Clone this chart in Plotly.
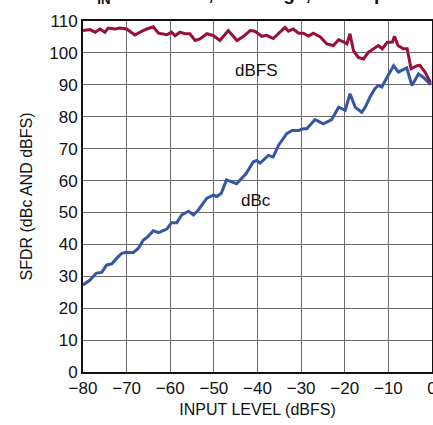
import plotly.graph_objects as go

# dBFS curve (red)
dbfs_x = [-80.0, -78.4, -77.2, -76.1, -75.0, -74.2, -72.7, -71.5, -70.0, -68.1,
          -66.9, -65.4, -63.9, -62.7, -60.8, -59.7, -58.9, -57.8, -56.6, -55.5,
          -54.3, -53.2, -51.6, -50.1, -48.6, -46.7, -44.7, -43.2, -41.7, -40.6,
          -39.0, -37.9, -36.4, -35.2, -33.7, -32.9, -31.8, -30.6, -29.5, -28.3,
          -27.2, -25.6, -24.1, -22.6, -21.4, -20.3, -19.5, -18.8, -18.0, -16.9,
          -15.7, -14.6, -13.5, -12.3, -11.4, -10.3, -9.1, -8.6, -7.8, -6.6,
          -5.7, -4.8, -3.4, -2.8, -1.6, -0.3]
dbfs_y = [107.0, 107.3, 106.5, 107.5, 106.5, 107.8, 107.5, 107.8, 107.5, 105.6,
          106.5, 107.5, 108.2, 106.2, 105.7, 106.5, 105.4, 106.5, 106.0, 106.0,
          103.9, 104.4, 106.0, 105.4, 103.9, 107.0, 103.9, 105.2, 107.0, 106.8,
          105.2, 105.5, 104.5, 106.0, 108.0, 106.8, 107.5, 106.2, 106.2, 105.3,
          106.2, 105.0, 102.8, 102.3, 104.1, 103.5, 102.8, 106.0, 100.7, 98.6,
          98.1, 100.2, 101.3, 102.3, 101.3, 103.3, 103.4, 105.2, 102.3, 101.3,
          101.3, 95.0, 96.0, 96.1, 94.0, 90.6]

# dBc curve (blue)
dbc_x = [-80.0, -78.4, -76.9, -75.7, -74.6, -73.4, -72.3, -71.1, -70.0, -68.5,
         -67.3, -66.2, -65.0, -63.9, -62.7, -60.8, -59.7, -58.5, -57.4, -55.8,
         -54.7, -53.6, -52.4, -51.6, -50.1, -49.3, -48.3, -47.1, -44.8, -42.6,
         -41.0, -40.2, -39.4, -37.5, -36.4, -35.2, -33.3, -32.1, -30.6, -29.5,
         -28.7, -26.8, -24.9, -23.0, -21.4, -19.9, -18.8, -17.6, -16.1, -15.3,
         -14.2, -13.1, -12.3, -11.5, -10.3, -8.8, -7.7, -5.8, -4.6, -3.1,
         -2.0, -0.3]
dbc_y = [27.3, 28.8, 31.0, 31.2, 33.5, 33.9, 35.6, 37.2, 37.5, 37.4,
         38.8, 41.3, 42.6, 44.3, 43.7, 44.8, 46.8, 46.8, 49.2, 50.4,
         49.2, 50.7, 53.0, 54.5, 55.4, 55.0, 56.0, 60.2, 59.0, 62.2,
         65.8, 66.3, 65.5, 67.9, 67.4, 71.0, 74.7, 75.7, 75.7, 76.2,
         76.2, 79.1, 77.8, 79.1, 83.0, 82.0, 87.2, 83.0, 81.4, 83.0,
         86.2, 88.8, 89.8, 89.3, 92.4, 96.0, 94.0, 95.3, 89.8, 93.4,
         92.4, 90.0]

x_ticks = [-80, -70, -60, -50, -40, -30, -20, -10, 0]
y_ticks = [0, 10, 20, 30, 40, 50, 60, 70, 80, 90, 100, 110]

FONT = "Liberation Sans Narrow, Arial Narrow, Liberation Sans, sans-serif"

fig = go.Figure()
fig.add_trace(go.Scatter(x=dbfs_x, y=dbfs_y, mode="lines",
                         line=dict(color="#9a0f35", width=3)))
fig.add_trace(go.Scatter(x=dbc_x, y=dbc_y, mode="lines",
                         line=dict(color="#3556a6", width=3)))

fig.add_annotation(x=-40.3, y=94.5, text="dBFS", showarrow=False,
                   font=dict(size=17, color="#111"))
fig.add_annotation(x=-40.3, y=53.8, text="dBc", showarrow=False,
                   font=dict(size=17, color="#111"))
# title, mostly cut off at the top of the page
fig.add_annotation(x=0.46, y=1, xref="paper", yref="paper", yanchor="bottom",
                   yshift=12, showarrow=False,
                   text="<b>f<sub>IN</sub> = 30.1MHz, 2V Range, 125Msps</b>",
                   font=dict(size=19, color="#111"))

axis_common = dict(showgrid=True, gridcolor="#6b6b6b", gridwidth=1.3,
                   showline=True, linecolor="#111", linewidth=2, mirror=True,
                   ticks="", zeroline=False, automargin=False,
                   ticklabeloverflow="allow",
                   tickfont=dict(size=17, color="#111"),
                   title_font=dict(size=16, color="#111"))

fig.update_xaxes(range=[-80, 0], tickvals=x_ticks,
                 title_text="INPUT LEVEL (dBFS)", title_standoff=6,
                 **axis_common)
fig.update_yaxes(range=[0, 110], tickvals=y_ticks,
                 title_text="SFDR (dBc AND dBFS)", title_standoff=13,
                 **axis_common)

fig.update_layout(width=433, height=425, showlegend=False,
                  margin=dict(l=83, r=1, t=21, b=53),
                  paper_bgcolor="white", plot_bgcolor="white",
                  font=dict(family=FONT, color="#111"))

# drop the browser's default page margin so the figure sits at the corner
fig.write_html("out.html", config={"displayModeBar": False},
               post_script="document.body.style.margin='0';")
